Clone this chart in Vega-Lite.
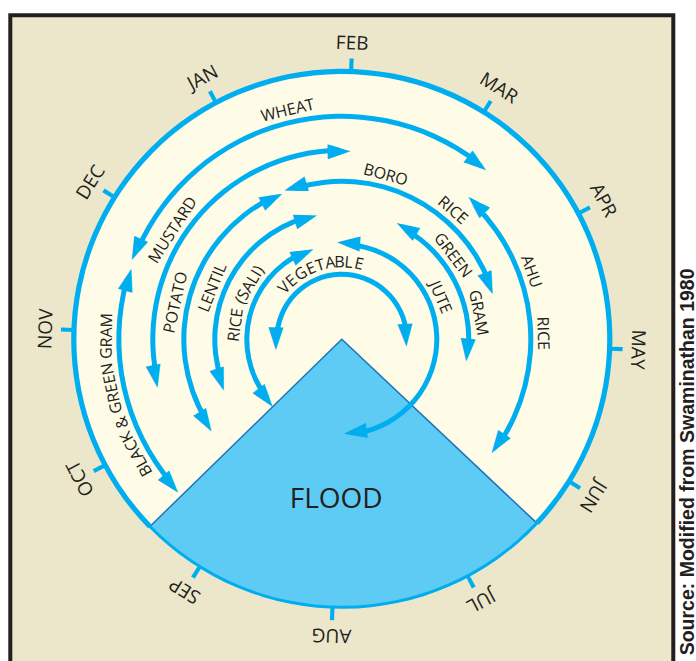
{
  "$schema": "https://vega.github.io/schema/vega-lite/v6.json",
  "width": 663,
  "height": 648,
  "autosize": {"type": "none"},
  "padding": {"left": 10.3, "top": 15.3, "right": 22.7, "bottom": -2.3},
  "background": "white",
  "view": {"fill": "#ece7cb", "stroke": "#231f20", "strokeWidth": 4},
  "title": {
    "text": "Source: Modified from Swaminathan 1980",
    "orient": "right",
    "anchor": "end",
    "frame": "group",
    "align": "left",
    "angle": -90,
    "baseline": "alphabetic",
    "offset": 1.5,
    "dx": 8,
    "font": "Liberation Sans",
    "fontSize": 19.5,
    "fontWeight": "bold",
    "color": "#231f20"
  },
  "datasets": {
    "zones": [
      {"zone": "disc", "from": 2, "to": 14, "ring": 0},
      {"zone": "flood", "from": 6.377, "to": 9.457, "ring": 0},
      {"zone": "rim", "from": 9.457, "to": 18.377, "ring": 0}
    ],
    "months": [
      {"month": "JAN", "m": 1},
      {"month": "FEB", "m": 2},
      {"month": "MAR", "m": 3},
      {"month": "APR", "m": 4},
      {"month": "MAY", "m": 5},
      {"month": "JUN", "m": 6},
      {"month": "JUL", "m": 7},
      {"month": "AUG", "m": 8},
      {"month": "SEP", "m": 9},
      {"month": "OCT", "m": 10},
      {"month": "NOV", "m": 11},
      {"month": "DEC", "m": 12}
    ],
    "crops": [
      {"crop": "BLACK & GREEN GRAM", "ring": 1, "start": 9.593, "end": 11.453},
      {"crop": "WHEAT", "ring": 1, "start": 11.72, "end": 15.183},
      {"crop": "MUSTARD", "ring": 2, "start": 10.557, "end": 13.903},
      {"crop": "AHU RICE", "ring": 2, "start": 3.433, "end": 6.06},
      {"crop": "POTATO", "ring": 3, "start": 9.897, "end": 13.05},
      {"crop": "BORO RICE", "ring": 3, "start": 1.37, "end": 4.237},
      {"crop": "LENTIL", "ring": 4, "start": 10.32, "end": 13.38},
      {"crop": "GREEN GRAM", "ring": 4, "start": 2.943, "end": 5.097},
      {"crop": "RICE (SALI)", "ring": 5, "start": 9.687, "end": 13.113},
      {"crop": "JUTE", "ring": 5, "start": 2.067, "end": 7.66},
      {"crop": "VEGETABLE", "ring": 6, "start": 10.947, "end": 16.813}
    ],
    "labels": [
      {"crop": "WHEAT", "text": "WHEAT", "ring": 1, "m": 1.49},
      {"crop": "BLACK & GREEN GRAM", "text": "BLACK", "ring": 1, "m": 9.963},
      {"crop": "BLACK & GREEN GRAM", "text": "&", "ring": 1, "m": 10.243},
      {"crop": "BLACK & GREEN GRAM", "text": "GREEN", "ring": 1, "m": 10.533},
      {"crop": "BLACK & GREEN GRAM", "text": "GRAM", "ring": 1, "m": 10.96},
      {"crop": "MUSTARD", "text": "MUSTARD", "ring": 2, "m": 12.03},
      {"crop": "AHU RICE", "text": "AHU", "ring": 2, "m": 4.277},
      {"crop": "AHU RICE", "text": "RICE", "ring": 2, "m": 4.877},
      {"crop": "POTATO", "text": "POTATO", "ring": 3, "m": 11.35},
      {"crop": "BORO RICE", "text": "BORO", "ring": 3, "m": 2.43},
      {"crop": "BORO RICE", "text": "RICE", "ring": 3, "m": 3.29},
      {"crop": "LENTIL", "text": "LENTIL", "ring": 4, "m": 11.66},
      {"crop": "GREEN GRAM", "text": "GREEN", "ring": 4, "m": 3.697},
      {"crop": "GREEN GRAM", "text": "GRAM", "ring": 4, "m": 4.567},
      {"crop": "RICE (SALI)", "text": "RICE", "ring": 5, "m": 11.19},
      {"crop": "RICE (SALI)", "text": "(SALI)", "ring": 5, "m": 11.95},
      {"crop": "JUTE", "text": "JUTE", "ring": 5, "m": 4.163},
      {"crop": "VEGETABLE", "text": "V", "ring": 6, "m": 12.333},
      {"crop": "VEGETABLE", "text": "E", "ring": 6, "m": 12.573},
      {"crop": "VEGETABLE", "text": "G", "ring": 6, "m": 12.87},
      {"crop": "VEGETABLE", "text": "E", "ring": 6, "m": 1.15},
      {"crop": "VEGETABLE", "text": "T", "ring": 6, "m": 1.393},
      {"crop": "VEGETABLE", "text": "A", "ring": 6, "m": 1.647},
      {"crop": "VEGETABLE", "text": "B", "ring": 6, "m": 1.88},
      {"crop": "VEGETABLE", "text": "L", "ring": 6, "m": 2.103},
      {"crop": "VEGETABLE", "text": "E", "ring": 6, "m": 2.36}
    ],
    "notes": [
      {"text": "FLOOD", "m": 8}
    ]
  },
  "layer": [
    {
      "data": {"name": "zones"},
      "transform": [{"filter": "datum.zone == 'disc'"}],
      "mark": {"type": "arc", "fill": "#fefbe7"},
      "encoding": {
        "theta": {"field": "from", "type": "quantitative", "stack": null, "scale": {"type": "linear", "domain": [2, 14], "range": [0.034907, 6.318092]}},
        "theta2": {"field": "to"},
        "radius": {"field": "ring", "type": "quantitative", "scale": {"type": "linear", "domain": [0, 1, 2, 3, 4, 5, 6], "range": [268, 223, 189, 158, 127, 95, 65], "zero": false, "nice": false}},
        "radius2": {"value": 0}
      }
    },
    {
      "data": {"name": "zones"},
      "transform": [{"filter": "datum.zone == 'flood'"}],
      "mark": {"type": "arc", "fill": "#5ecbf4", "stroke": "#1c75bc", "strokeWidth": 1.5},
      "encoding": {
        "theta": {"field": "from", "type": "quantitative", "stack": null},
        "theta2": {"field": "to"},
        "radius": {"field": "ring", "type": "quantitative"},
        "radius2": {"value": 0}
      }
    },
    {
      "data": {"name": "zones"},
      "transform": [{"filter": "datum.zone == 'flood'"}],
      "mark": {"type": "arc", "fill": "#00aeef", "radiusOffset": 1.5, "radius2Offset": -1.5},
      "encoding": {
        "theta": {"field": "from", "type": "quantitative", "stack": null},
        "theta2": {"field": "to"},
        "radius": {"field": "ring", "type": "quantitative"},
        "radius2": {"field": "ring"}
      }
    },
    {
      "data": {"name": "zones"},
      "transform": [{"filter": "datum.zone == 'rim'"}],
      "mark": {"type": "arc", "fill": "#00aeef", "radiusOffset": 2.6, "radius2Offset": -2.6},
      "encoding": {
        "theta": {"field": "from", "type": "quantitative", "stack": null},
        "theta2": {"field": "to"},
        "radius": {"field": "ring", "type": "quantitative"},
        "radius2": {"field": "ring"}
      }
    },
    {
      "data": {"name": "months"},
      "mark": {"type": "arc", "fill": "#00aeef", "thetaOffset": -0.0075, "theta2Offset": 0.0075, "radiusOffset": 13, "radius2Offset": 0},
      "encoding": {
        "theta": {"field": "m", "type": "quantitative", "stack": null},
        "theta2": {"field": "m"},
        "radius": {"datum": 0, "type": "quantitative"},
        "radius2": {"datum": 0}
      }
    },
    {
      "data": {"name": "crops"},
      "mark": {"type": "arc", "fill": "#00aeef", "radiusOffset": 2.5, "radius2Offset": -2.5},
      "encoding": {
        "theta": {"field": "start", "type": "quantitative", "stack": null},
        "theta2": {"field": "end"},
        "radius": {"field": "ring", "type": "quantitative"},
        "radius2": {"field": "ring"}
      }
    },
    {
      "data": {"name": "crops"},
      "mark": {"type": "text", "text": "►", "font": "DejaVu Sans", "fontSize": 30, "fill": "#00aeef", "align": "center", "baseline": "middle"},
      "encoding": {
        "theta": {"field": "start", "type": "quantitative", "stack": null},
        "radius": {"field": "ring", "type": "quantitative"},
        "angle": {"field": "start", "type": "quantitative", "legend": null, "scale": {"domain": [2, 14], "range": [182, 542]}}
      }
    },
    {
      "data": {"name": "crops"},
      "mark": {"type": "text", "text": "►", "font": "DejaVu Sans", "fontSize": 30, "fill": "#00aeef", "align": "center", "baseline": "middle"},
      "encoding": {
        "theta": {"field": "end", "type": "quantitative", "stack": null},
        "radius": {"field": "ring", "type": "quantitative"},
        "angle": {"field": "end", "type": "quantitative", "legend": null, "scale": {"domain": [2, 14], "range": [2, 362]}}
      }
    },
    {
      "data": {"name": "labels"},
      "mark": {"type": "text", "font": "Open Sans", "fontSize": 16, "fill": "#231f20", "align": "center", "baseline": "middle", "radiusOffset": 12},
      "encoding": {
        "text": {"field": "text"},
        "theta": {"field": "m", "type": "quantitative", "stack": null},
        "radius": {"field": "ring", "type": "quantitative"},
        "angle": {"field": "m", "type": "quantitative", "legend": null, "scale": {"domain": [2, 14], "range": [2, 362]}}
      }
    },
    {
      "data": {"name": "months"},
      "mark": {"type": "text", "font": "Open Sans", "fontSize": 19, "fill": "#231f20", "align": "center", "baseline": "middle", "radiusOffset": 28},
      "encoding": {
        "text": {"field": "month"},
        "theta": {"field": "m", "type": "quantitative", "stack": null},
        "radius": {"datum": 0, "type": "quantitative"},
        "angle": {"field": "m", "type": "quantitative", "legend": null, "scale": {"domain": [2, 14], "range": [2, 362]}}
      }
    },
    {
      "data": {"name": "notes"},
      "mark": {"type": "text", "font": "Open Sans", "fontSize": 28, "fill": "#231f20", "align": "center", "baseline": "middle", "radiusOffset": -107},
      "encoding": {
        "text": {"field": "text"},
        "theta": {"field": "m", "type": "quantitative", "stack": null},
        "radius": {"datum": 0, "type": "quantitative"}
      }
    }
  ],
  "resolve": {"scale": {"angle": "independent"}},
  "config": {
    "view": {"fill": "#ece7cb", "stroke": "#231f20", "strokeWidth": 4}
  }
}
